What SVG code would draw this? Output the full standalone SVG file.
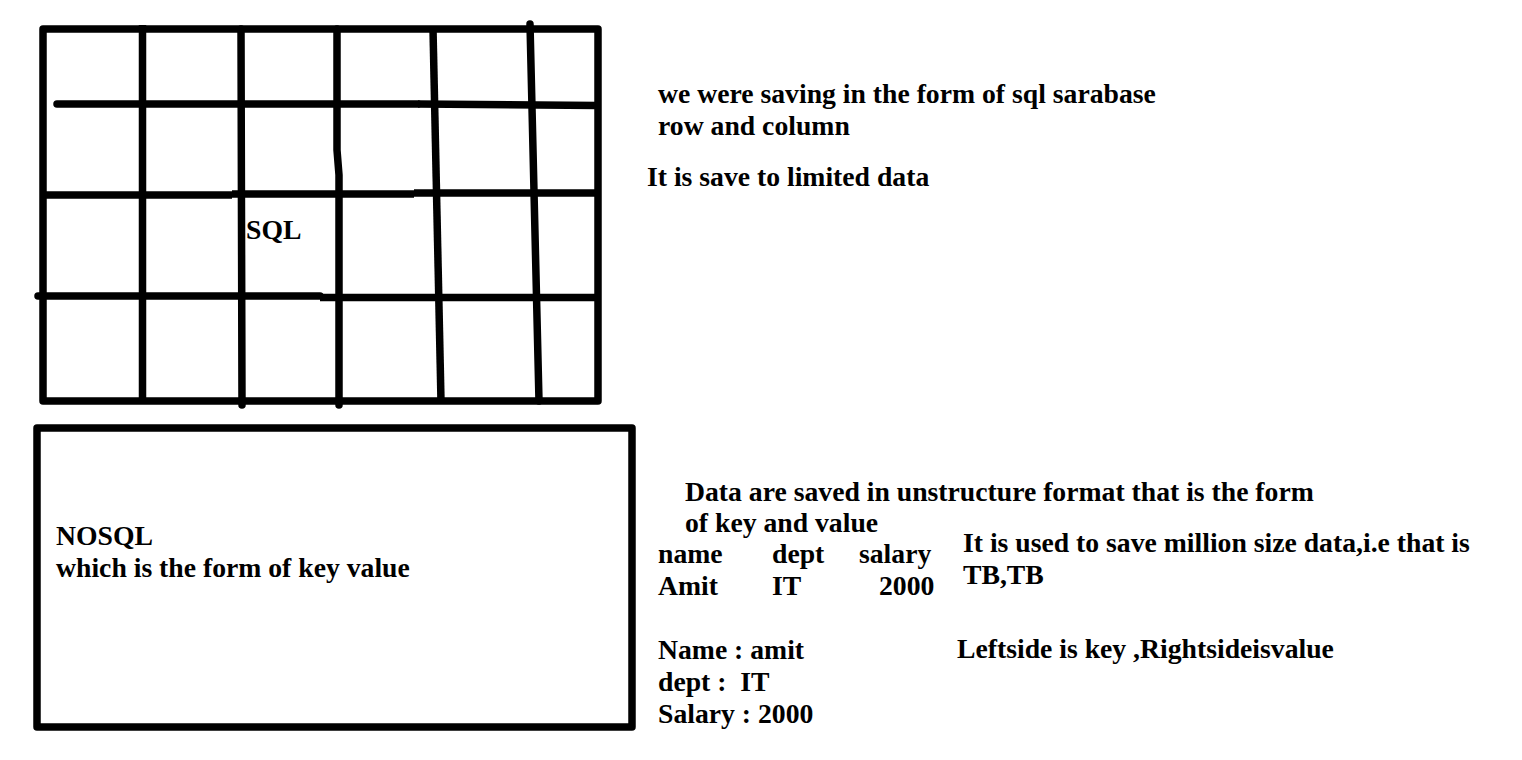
<svg xmlns="http://www.w3.org/2000/svg" width="1522" height="760" viewBox="0 0 1522 760">
<style>
.ln{fill:none;stroke:#000;stroke-width:7.5;stroke-linecap:butt;stroke-linejoin:round}
.rc{stroke-linecap:round}
.t{font-family:"Liberation Serif","Times New Roman",serif;font-weight:bold;font-size:27.7px;fill:#000;white-space:pre}
</style>
<rect width="1522" height="760" fill="#fff"/>
<g id="sql-grid">
<rect class="ln" x="43" y="29" width="555" height="372"/>
<path class="ln" d="M418,104 L598,105.5"/>
<path class="ln rc" d="M57,104 L418,104"/>
<path class="ln" d="M43,195 L232,195 M232,194 L414,194 M414,193 L598,193"/>
<path class="ln rc" d="M38,296 L320,296"/>
<path class="ln" d="M320,297.5 L598,297.5"/>
<path class="ln" d="M142.5,25 L142.5,401"/>
<path class="ln rc" d="M241,29 L242,405"/>
<path class="ln rc" d="M337,29 L337,150 L339,175 L339,405"/>
<path class="ln" d="M433,29 L441,401"/>
<path class="ln rc" d="M530,24 L539,401"/>
<text class="t" x="246" y="239">SQL</text>
</g>
<g id="nosql-box">
<rect class="ln" x="37" y="428" width="595" height="299"/>
<text class="t" x="56" y="545">NOSQL</text>
<text class="t" x="56" y="577">which is the form of key value</text>
</g>
<g id="sql-notes">
<text class="t" x="658" y="103">we were saving in the form of sql sarabase</text>
<text class="t" x="658" y="134.5">row and column</text>
<text class="t" x="647" y="186">It is save to limited data</text>
</g>
<g id="nosql-notes">
<text class="t" x="685" y="501">Data are saved in unstructure format that is the form</text>
<text class="t" x="685" y="532">of key and value</text>
<text class="t" x="658" y="563">name</text>
<text class="t" x="772" y="563">dept</text>
<text class="t" x="859" y="563">salary</text>
<text class="t" x="658" y="595">Amit</text>
<text class="t" x="772" y="595">IT</text>
<text class="t" x="879" y="595">2000</text>
<text class="t" x="963" y="552">It is used to save million size data,i.e that is</text>
<text class="t" x="963" y="584">TB,TB</text>
<text class="t" x="658" y="659">Name : amit</text>
<text class="t" x="658" y="691">dept :  IT</text>
<text class="t" x="658" y="723">Salary : 2000</text>
<text class="t" x="957" y="658">Leftside is key ,Rightsideisvalue</text>
</g>
<g id="connectors"></g>
</svg>
